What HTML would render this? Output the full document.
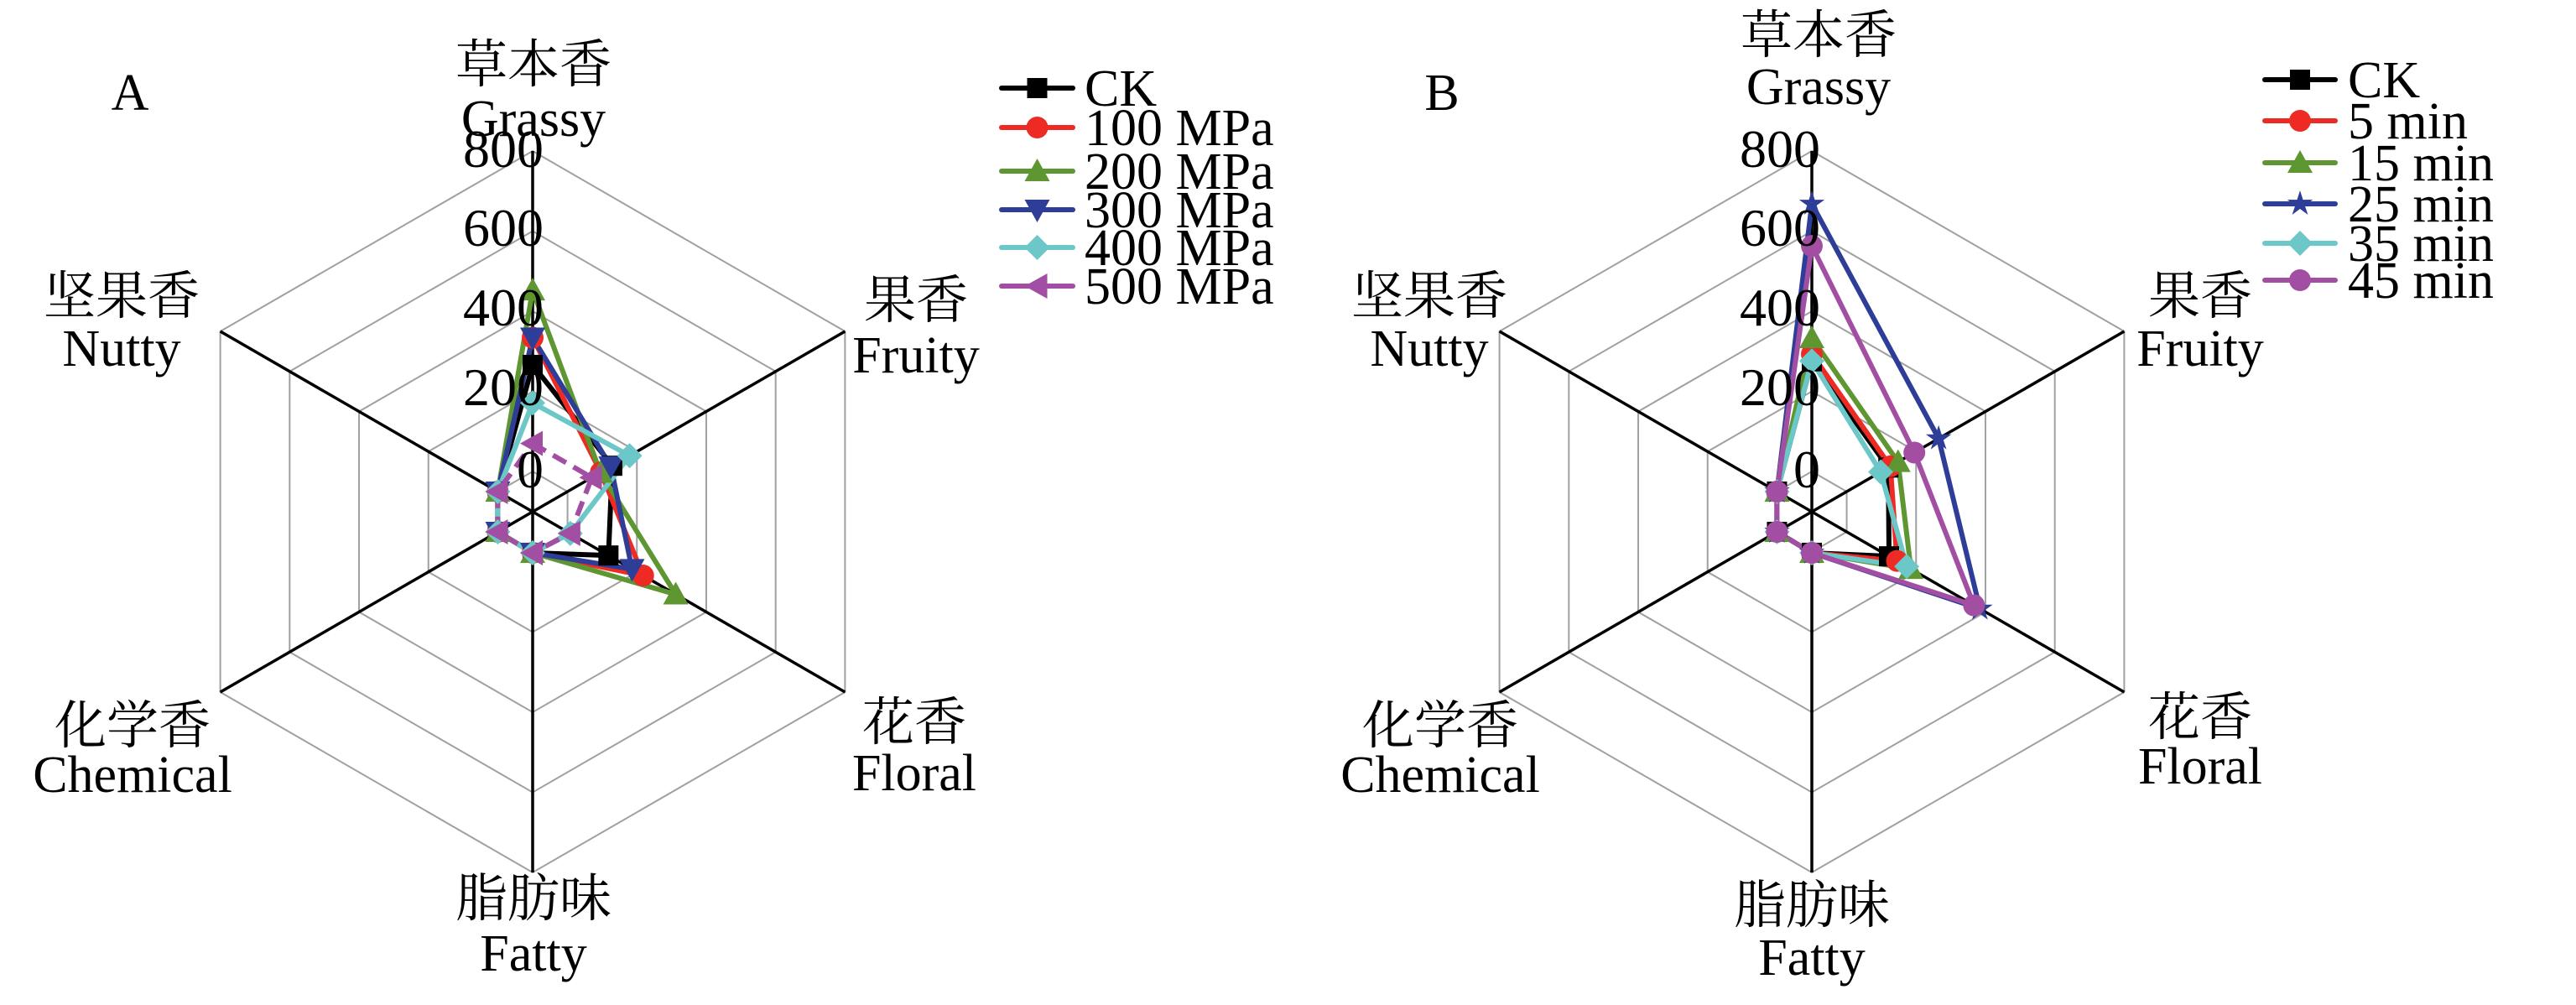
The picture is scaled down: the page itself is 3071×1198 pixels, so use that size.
<!DOCTYPE html>
<html><head><meta charset="utf-8"><style>
html,body{margin:0;padding:0;background:#fff;}
svg text{font-family:"Liberation Serif","Noto Serif CJK SC","Noto Sans CJK SC",serif;fill:#000;}
</style></head><body>
<svg id="s" xmlns="http://www.w3.org/2000/svg" width="3071" height="1193" viewBox="0 0 3071 1193">
<rect width="3071" height="1193" fill="#fff"/>
<g id="gA"></g><g id="gB"></g>
<g font-size="62" text-anchor="middle">
<text x="636" y="98">草本香</text><text x="636" y="162">Grassy</text>
<text x="1092" y="379">果香</text><text x="1092" y="444">Fruity</text>
<text x="145" y="374">坚果香</text><text x="145" y="436">Nutty</text>
<text x="158" y="886">化学香</text><text x="158" y="944">Chemical</text>
<text x="1090" y="882">花香</text><text x="1090" y="942">Floral</text>
<text x="636" y="1092">脂肪味</text><text x="636" y="1157">Fatty</text>
<text x="155" y="131">A</text>

<text x="2168" y="63">草本香</text><text x="2168" y="124">Grassy</text>
<text x="2623" y="374">果香</text><text x="2623" y="436">Fruity</text>
<text x="1704" y="374">坚果香</text><text x="1704" y="436">Nutty</text>
<text x="1717" y="886">化学香</text><text x="1717" y="944">Chemical</text>
<text x="2623" y="876">花香</text><text x="2623" y="934">Floral</text>
<text x="2160" y="1100">脂肪味</text><text x="2160" y="1162">Fatty</text>
<text x="1719" y="131">B</text>
</g>
<g font-size="64" text-anchor="end">
<text x="648" y="199">800</text><text x="648" y="293">600</text><text x="648" y="388">400</text><text x="648" y="483">200</text><text x="648" y="581">0</text>
<text x="2170" y="199">800</text><text x="2170" y="293">600</text><text x="2170" y="388">400</text><text x="2170" y="483">200</text><text x="2170" y="581">0</text>
</g>
<g font-size="62">
<text x="1293" y="126">CK</text><text x="1293" y="173">100 MPa</text><text x="1293" y="225">200 MPa</text><text x="1293" y="271">300 MPa</text><text x="1293" y="316">400 MPa</text><text x="1293" y="362">500 MPa</text>
<text x="2799" y="116">CK</text><text x="2799" y="165">5 min</text><text x="2799" y="215">15 min</text><text x="2799" y="264">25 min</text><text x="2799" y="311">35 min</text><text x="2799" y="355">45 min</text>
</g>
<g id="leg"></g>
</svg>
<script>
var NS="http://www.w3.org/2000/svg";
function el(p,t,a){var e=document.createElementNS(NS,t);for(var k in a)e.setAttribute(k,a[k]);p.appendChild(e);return e;}
var R=430,R0=48,SC=(R-R0)/800;
function pt(cx,cy,i,v){var a=(-90+60*i)*Math.PI/180,r=R0+v*SC;return [cx+r*Math.cos(a),cy+r*Math.sin(a)];}
function marker(g,x,y,type,c){
 var s=12;
 if(type=="sq")el(g,"rect",{x:x-s,y:y-s,width:2*s,height:2*s,fill:c});
 else if(type=="ci")el(g,"circle",{cx:x,cy:y,r:s+1,fill:c});
 else if(type=="tu")el(g,"polygon",{points:[x,y-s-3,x+s+3,y+s,x-s-3,y+s].join(","),fill:c});
 else if(type=="td")el(g,"polygon",{points:[x,y+s+3,x+s+3,y-s,x-s-3,y-s].join(","),fill:c});
 else if(type=="di")el(g,"polygon",{points:[x,y-s-3,x+s+3,y,x,y+s+3,x-s-3,y].join(","),fill:c});
 else if(type=="tl")el(g,"polygon",{points:[x-s-3,y,x+s,y-s-3,x+s,y+s+3].join(","),fill:c});
 else if(type=="st"){var p=[];for(var k=0;k<10;k++){var a=(-90+36*k)*Math.PI/180,r=k%2?6:16;p.push(x+r*Math.cos(a),y+r*Math.sin(a));}el(g,"polygon",{points:p.join(","),fill:c});}
}
function chart(g,cx,cy,series){
 for(var v=0;v<=800;v+=200){var p=[];for(var i=0;i<6;i++)p.push(pt(cx,cy,i,v).join(","));el(g,"polygon",{points:p.join(" "),fill:"none",stroke:"#a0a0a0","stroke-width":2});}
 for(var i=0;i<6;i++){var q=pt(cx,cy,i,800);el(g,"line",{x1:cx,y1:cy,x2:q[0],y2:q[1],stroke:"#000","stroke-width":3.5});}
 series.forEach(function(s){var p=[];for(var i=0;i<6;i++)p.push(pt(cx,cy,i,s.d[i]).join(","));
  var a={points:p.join(" "),fill:"none",stroke:s.c,"stroke-width":6,"stroke-linejoin":"round"};if(s.dash)a["stroke-dasharray"]="18,10";el(g,"polygon",a);});
 series.forEach(function(s){for(var i=0;i<6;i++){var q=pt(cx,cy,i,s.d[i]);marker(g,q[0],q[1],s.m,s.c);}});
}
var K="#000",Rd="#ee2a24",G="#5e9632",Bl="#2e3d98",Cy="#6cc7c8",P="#a24fa3";
chart(document.getElementById("gA"),635,610,[
 {c:K,m:"sq",d:[266,129,118,2,0,0]},
 {c:Rd,m:"ci",d:[334,96,218,2,0,0]},
 {c:G,m:"tu",d:[452,95,312,2,0,0]},
 {c:Bl,m:"td",d:[334,125,186,2,0,0]},
 {c:Cy,m:"di",d:[171,179,8,2,0,0]},
 {c:P,m:"tl",d:[70,70,8,2,0,0],dash:1}]);
chart(document.getElementById("gB"),2160,610,[
 {c:K,m:"sq",d:[275,120,122,2,0,0]},
 {c:Rd,m:"ci",d:[293,126,145,2,0,0]},
 {c:G,m:"tu",d:[333,148,185,2,0,0]},
 {c:Bl,m:"st",d:[668,265,384,2,0,0]},
 {c:Cy,m:"di",d:[276,98,173,2,0,0]},
 {c:P,m:"ci",d:[563,195,367,2,0,0]}]);
var L=document.getElementById("leg");
function leg(x1,x2,y,c,m){el(L,"line",{x1:x1,y1:y,x2:x2,y2:y,stroke:c,"stroke-width":6,"stroke-linecap":"round"});marker(L,(x1+x2)/2,y,m,c);}
[[105,K,"sq"],[152,Rd,"ci"],[204,G,"tu"],[250,Bl,"td"],[295,Cy,"di"],[341,P,"tl"]].forEach(function(r){leg(1194,1279,r[0],r[1],r[2]);});
[[95,K,"sq"],[144,Rd,"ci"],[194,G,"tu"],[243,Bl,"st"],[290,Cy,"di"],[334,P,"ci"]].forEach(function(r){leg(2700,2784,r[0],r[1],r[2]);});
</script>
</body></html>
